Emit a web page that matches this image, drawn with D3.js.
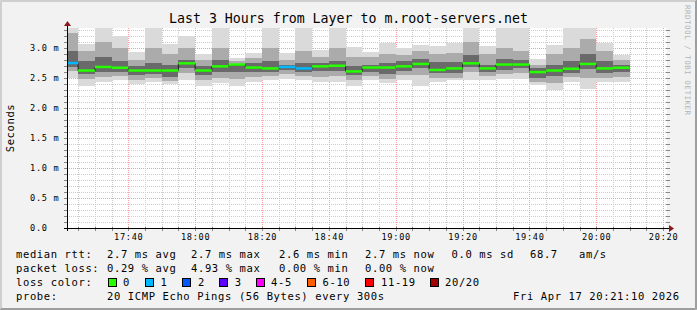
<!DOCTYPE html>
<html><head><meta charset="utf-8">
<script src="https://cdn.jsdelivr.net/npm/d3@7"></script>
<style>
html,body{margin:0;padding:0;background:#f2f2f2;}
svg{display:block;}
text{font-family:"DejaVu Sans Mono",monospace;white-space:pre;}
</style>
</head><body><svg id="c" width="697" height="310"></svg>
<script>
// ---------- DATA ----------
const title = "Last 3 Hours from Layer to m.root-servers.net";
const startTime = "17:21:40", endTime = "20:21:10";
const barEnd = ["17:25","17:30","17:35","17:40","17:45","17:50","17:55","18:00","18:05","18:10","18:15","18:20",
  "18:25","18:30","18:35","18:40","18:45","18:50","18:55","19:00","19:05","19:10","19:15","19:20",
  "19:25","19:30","19:35","19:40","19:45","19:50","19:55","20:00","20:05","20:10"];
// values in ms
const median = [2.745,2.62,2.68,2.667,2.62,2.62,2.62,2.74,2.62,2.69,2.72,2.67,
  2.655,2.68,2.655,2.69,2.70,2.605,2.67,2.67,2.69,2.73,2.63,2.655,
  2.74,2.655,2.72,2.72,2.595,2.62,2.65,2.73,2.655,2.667];
const maxV = [3.4,3.07,3.4,3.2,2.94,3.4,3.07,3.2,2.9,3.4,2.83,2.91,
  3.4,2.91,3.4,2.97,3.4,3.02,2.94,3.09,3.0,3.05,3.03,3.09,
  3.4,3.03,3.4,3.4,2.81,3.05,3.4,3.4,3.09,2.88];
const p90 = [3.25,2.95,3.1,3.0,2.8,3.0,2.9,3.0,2.8,3.0,2.78,2.83,
  3.0,2.8,2.95,2.85,3.0,2.85,2.85,2.9,2.88,2.95,2.9,2.92,
  3.1,2.9,3.0,2.95,2.72,2.9,3.0,3.15,2.95,2.8];
const p75 = [2.95,2.78,2.85,2.78,2.7,2.75,2.72,2.8,2.7,2.8,2.74,2.75,
  2.78,2.72,2.75,2.75,2.78,2.7,2.72,2.75,2.78,2.82,2.76,2.76,
  2.88,2.72,2.82,2.8,2.66,2.72,2.78,2.9,2.78,2.72];
const p25 = [2.68,2.56,2.6,2.6,2.55,2.56,2.52,2.66,2.55,2.6,2.6,2.6,
  2.6,2.63,2.6,2.62,2.62,2.55,2.6,2.56,2.62,2.66,2.58,2.58,
  2.68,2.6,2.64,2.66,2.5,2.54,2.58,2.65,2.58,2.6];
const p10 = [2.62,2.48,2.52,2.53,2.47,2.5,2.45,2.58,2.46,2.5,2.48,2.52,
  2.53,2.57,2.54,2.52,2.53,2.46,2.53,2.48,2.55,2.55,2.5,2.5,
  2.6,2.53,2.56,2.58,2.43,2.42,2.52,2.5,2.5,2.52];
const minV = [2.5,2.37,2.44,2.47,2.4,2.44,2.4,2.47,2.37,2.42,2.37,2.44,
  2.47,2.49,2.47,2.44,2.44,2.37,2.47,2.42,2.47,2.37,2.44,2.47,
  2.47,2.47,2.48,2.49,2.38,2.3,2.44,2.31,2.44,2.44];
const lostPings = [1,0,0,0,0,0,0,0,0,0,0,0,0,1,1,0,0,0,0,0,0,0,0,0,0,0,0,0,0,0,0,0,0,0];

const xTickLabels = ["17:40","18:00","18:20","18:40","19:00","19:20","19:40","20:00","20:20"];
const yTicks = [0,0.5,1.0,1.5,2.0,2.5,3.0];
const yTickLabels = ["0.0","0.5 m","1.0 m","1.5 m","2.0 m","2.5 m","3.0 m"];
const lossLabels = ["0","1","2","3","4-5","6-10","11-19","20/20"];
const lossColors = ["#26ff00","#00b8ff","#0059ff","#5e00ff","#ff00ff","#ff5e00","#ff0000","#a10000"];
const rttLegend = ["median rtt:","2.7 ms avg","2.7 ms max","2.6 ms min","2.7 ms now","0.0 ms sd","68.7","am/s"];
const lossLegend = ["packet loss:","0.29 % avg","4.93 % max","0.00 % min","0.00 % now"];
const lossColorLabel = "loss color:";
const probeLegend = ["probe:","20 ICMP Echo Pings (56 Bytes) every 300s"];
const dateText = "Fri Apr 17 20:21:10 2026";
const yAxisTitle = "Seconds";
const watermark = "RRDTOOL / TOBI OETIKER";

// ---------- LAYOUT ----------
const svg = d3.select("#c");
const W = 697, H = 310;
const L = 67, R = 667, T = 28, B = 228;
const parseT = s => { const [h,m,sc] = s.split(":").map(Number); return new Date(2026,3,17,h,m,sc||0); };
const x = d3.scaleTime().domain([parseT(startTime), parseT(endTime)]).range([L, R]);
const y = d3.scaleLinear().domain([0, 10/3]).range([B, T]);
const lossIndex = n => n<=3 ? n : n<=5 ? 4 : n<=10 ? 5 : n<=19 ? 6 : 7;
const cp = v => Math.round(v) + 0.5;

// background & border
svg.append("rect").attr("width",W).attr("height",H).attr("fill","#f2f2f2");
svg.append("path").attr("d",`M0.5,${H}V0.5H${W}M1.5,${H-1}V1.5H${W-1}`).attr("fill","none").attr("stroke","#cfcfcf");
svg.append("path").attr("d",`M0,${H-0.5}H${W-0.5}V0M1,${H-1.5}H${W-1.5}V1`).attr("fill","none").attr("stroke","#9e9e9e");

// plot background
svg.append("rect").attr("x",L).attr("y",T).attr("width",R-L).attr("height",B-T).attr("fill","#ffffff");

// grid
const g = svg.append("g");
const majorX = xTickLabels.map(parseT);
const minorX = x.ticks(d3.timeMinute.every(5)).filter(d => d.getMinutes() % 20 !== 0 && x(d) > L+1);
const minorY = d3.ticks(0, 3.3, 33).filter(v => Math.round(v*10) % 5 !== 0);
g.selectAll(".mnx").data(minorX).enter().append("line")
  .attr("x1",d=>cp(x(d))).attr("x2",d=>cp(x(d))).attr("y1",T).attr("y2",B)
  .attr("stroke","#cccccc").attr("stroke-dasharray","1,1");
g.selectAll(".mny").data(minorY).enter().append("line")
  .attr("x1",L).attr("x2",R+1).attr("y1",d=>cp(y(d))).attr("y2",d=>cp(y(d)))
  .attr("stroke","#cccccc").attr("stroke-dasharray","1,1");
g.selectAll(".mjx").data(majorX).enter().append("line")
  .attr("x1",d=>cp(x(d))).attr("x2",d=>cp(x(d))).attr("y1",T).attr("y2",B)
  .attr("stroke","#f4a0a0").attr("stroke-dasharray","1,1");
g.selectAll(".mjy").data(yTicks.filter(v=>v>0)).enter().append("line")
  .attr("x1",L).attr("x2",R+1).attr("y1",d=>cp(y(d))).attr("y2",d=>cp(y(d)))
  .attr("stroke","#f4a0a0").attr("stroke-dasharray","1,1");

// clip
svg.append("clipPath").attr("id","pc").append("rect").attr("x",L).attr("y",T).attr("width",R-L).attr("height",B-T);
const plot = svg.append("g").attr("clip-path","url(#pc)");

const bars = barEnd.map((e,i) => {
  const end = parseT(e);
  const st = new Date(Math.max(+parseT(startTime), +end - 300000));
  return {x0:x(st), x1:x(end), i};
});
const layers = [[maxV,minV,"#dadada"],[p90,p10,"#ababab"],[p75,p25,"#6a6a6a"]];
layers.forEach(([hi,lo,col]) => {
  plot.selectAll(null).data(bars).enter().append("rect")
    .attr("x",d=>d.x0).attr("width",d=>d.x1-d.x0)
    .attr("y",d=>y(hi[d.i])).attr("height",d=>y(lo[d.i])-y(hi[d.i]))
    .attr("fill",col).attr("shape-rendering","crispEdges");
});
// dark median step line
const stepPts = [];
bars.forEach(d => { stepPts.push([d.x0, y(median[d.i])]); stepPts.push([d.x1, y(median[d.i])]); });
plot.append("path").attr("d", d3.line()(stepPts)).attr("fill","none").attr("stroke","#202020").attr("stroke-width",1);
// coloured median
plot.selectAll(null).data(bars).enter().append("rect")
  .attr("x",d=>d.x0).attr("width",d=>d.x1-d.x0)
  .attr("y",d=>y(median[d.i])-1.5).attr("height",2.5)
  .attr("fill",d=>lossColors[lossIndex(lostPings[d.i])]);

// ticks on axes
const tk = svg.append("g").attr("stroke","#888888");
minorY.concat(yTicks).forEach(v => {
  tk.append("line").attr("x1",L-3).attr("x2",L+1).attr("y1",cp(y(v))).attr("y2",cp(y(v)));
  tk.append("line").attr("x1",R-1).attr("x2",R+3).attr("y1",cp(y(v))).attr("y2",cp(y(v)));
});
minorX.concat(majorX).forEach(d => {
  tk.append("line").attr("x1",cp(x(d))).attr("x2",cp(x(d))).attr("y1",B-1).attr("y2",B+3);
});

// axes
const xAxis = d3.axisBottom(x).tickValues(majorX).tickFormat(d3.timeFormat("%H:%M")).tickSize(0).tickPadding(0);
const xa = svg.append("g").attr("transform",`translate(0,${B})`).call(xAxis);
xa.select(".domain").remove();
xa.selectAll("text").attr("y",12).attr("dy",0).attr("font-size","8.6px").attr("letter-spacing","0.72px")
  .attr("font-family","DejaVu Sans Mono").attr("fill","#000");
const yAxis = d3.axisLeft(y).tickValues(yTicks).tickFormat((d,i)=>yTickLabels[i]).tickSize(0);
const ya = svg.append("g").attr("transform",`translate(${L},0)`).call(yAxis);
ya.select(".domain").remove();
ya.selectAll("text").attr("text-anchor","start").attr("x",30-L).attr("dy","0.33em")
  .attr("font-size","8.6px").attr("letter-spacing","0.72px").attr("font-family","DejaVu Sans Mono").attr("fill","#000");

svg.append("line").attr("x1",L-3).attr("x2",R+2).attr("y1",B+0.5).attr("y2",B+0.5).attr("stroke","#000");
svg.append("line").attr("x1",L+0.5).attr("x2",L+0.5).attr("y1",B+3).attr("y2",T-3).attr("stroke","#000");
svg.append("path").attr("d",`M${R+2},${B-3}L${R+7},${B+0.5}L${R+2},${B+4}Z`).attr("fill","#8b1a1a");
svg.append("path").attr("d",`M${L-3},${T-2}L${L+0.5},${T-7}L${L+4},${T-2}Z`).attr("fill","#8b1a1a");

// title
svg.append("text").attr("x",W/2).attr("y",23).attr("text-anchor","middle")
  .attr("font-size","13.25px").attr("fill","#000").text(title);
// y title
svg.append("text").attr("transform","translate(14,128) rotate(-90)").attr("text-anchor","middle")
  .attr("font-size","10.5px").attr("letter-spacing","0.62px").attr("fill","#000").text(yAxisTitle);
// watermark
svg.append("text").attr("transform","translate(685,5) rotate(90)").attr("font-size","7.5px")
  .attr("textLength",110).attr("lengthAdjust","spacing").attr("fill","#b4b4b4").text(watermark);

// legend
const lg = svg.append("g").attr("font-size","10.5px").attr("letter-spacing","0.62px").attr("fill","#000");
const rowY = [257.5, 271.5, 285.5, 299.5];
const rttX = [16,107,191,279,365,451.5,530,579];
rttLegend.forEach((t,i) => lg.append("text").attr("x",rttX[i]).attr("y",rowY[0]).text(t));
const lossX = [16,107,191,279,365];
lossLegend.forEach((t,i) => lg.append("text").attr("x",lossX[i]).attr("y",rowY[1]).text(t));
lg.append("text").attr("x",16).attr("y",rowY[2]).text(lossColorLabel);
const probeX = [16,107];
probeLegend.forEach((t,i) => lg.append("text").attr("x",probeX[i]).attr("y",rowY[3]).text(t));
lg.append("text").attr("x",513).attr("y",rowY[3]).text(dateText);
const swX = [108.5,145.5,182.5,219.5,256.5,307.5,365.5,430.5];
const swTX = [123,160.5,198,234.7,271,322.5,381,445];
lossLabels.forEach((lab,i) => {
  svg.append("rect").attr("x",swX[i]).attr("y",278.5).attr("width",8).attr("height",8)
    .attr("fill",lossColors[i]).attr("stroke","#000");
  lg.append("text").attr("x",swTX[i]).attr("y",rowY[2]).text(lab);
});
</script>
</body></html>
